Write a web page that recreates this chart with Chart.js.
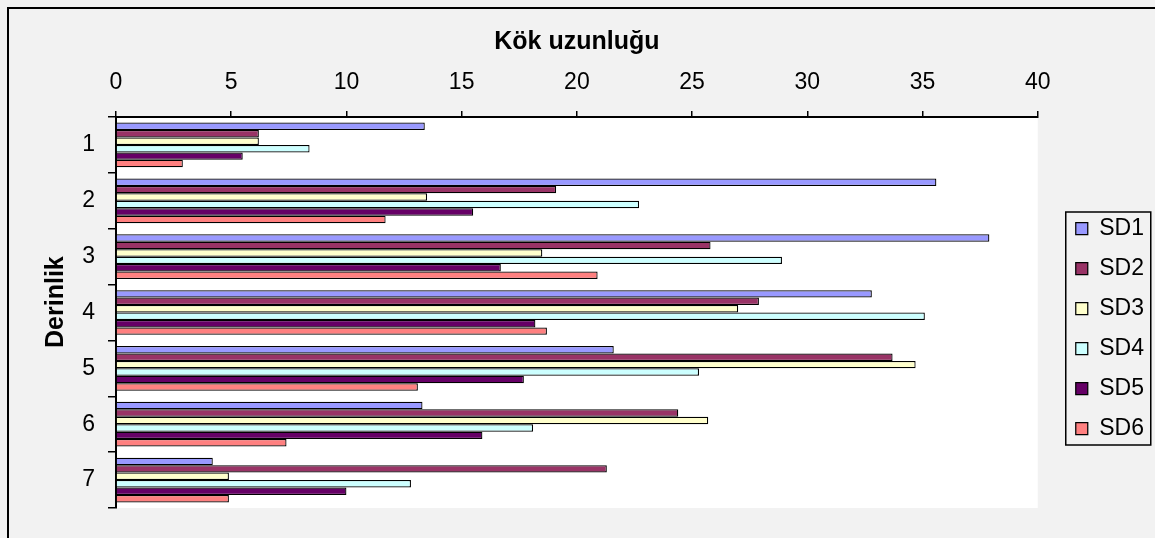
<!DOCTYPE html>
<html>
<head>
<meta charset="utf-8">
<script src="https://cdn.jsdelivr.net/npm/chart.js@4.4.1/dist/chart.umd.min.js"></script>
<style>
  html, body { margin: 0; padding: 0; background: #f2f2f2; }
  canvas { display: block; }
</style>
</head>
<body>
<canvas id="chart" width="1155" height="538"></canvas>
<script>
// Depth classes (rows) and root length per series
const depths = ['1', '2', '3', '4', '5', '6', '7'];
const seriesNames = ['SD1', 'SD2', 'SD3', 'SD4', 'SD5', 'SD6'];
const sd1 = [13.4, 35.6, 37.9, 32.8, 21.6, 13.3, 4.2];
const sd2 = [6.2, 19.1, 25.8, 27.9, 33.7, 24.4, 21.3];
const sd3 = [6.2, 13.5, 18.5, 27.0, 34.7, 25.7, 4.9];
const sd4 = [8.4, 22.7, 28.9, 35.1, 25.3, 18.1, 12.8];
const sd5 = [5.5, 15.5, 16.7, 18.2, 17.7, 15.9, 10.0];
const sd6 = [2.9, 11.7, 20.9, 18.7, 13.1, 7.4, 4.9];
const lengthTicks = [0, 5, 10, 15, 20, 25, 30, 35, 40];

const seriesValues = [sd1, sd2, sd3, sd4, sd5, sd6];
const seriesColors = ['#9999ff', '#993366', '#ffffcc', '#ccffff', '#660066', '#ff8080'];

const FONT = "'Liberation Sans', Arial, Helvetica, sans-serif";
Chart.defaults.font.family = FONT;
Chart.defaults.color = '#000';

const PAD = { top: 10, left: 10, right: 22, bottom: 30 };
const AREA_LEFT = 116;
const AREA_TOP = 117;

// Grey page, white plot area, outer frame, legend placement and legend frame
const decor = {
  id: 'decor',
  beforeDraw(chart) {
    const { ctx, chartArea: a } = chart;
    ctx.save();
    ctx.fillStyle = '#f2f2f2';
    ctx.fillRect(0, 0, chart.width, chart.height);
    ctx.fillStyle = '#ffffff';
    ctx.fillRect(a.left, a.top, a.right - a.left, a.bottom - a.top);
    ctx.strokeStyle = '#000';
    ctx.lineWidth = 2;
    ctx.strokeRect(8, 8, chart.width + 20, chart.height + 20);
    ctx.restore();
  },
  afterLayout(chart) {
    const lg = chart.legend;
    const w = lg.width, h = lg.height;
    lg.left = chart.chartArea.right + 21;
    lg.right = lg.left + w;
    lg.top = 200;
    lg.bottom = lg.top + h;
  },
  afterDraw(chart) {
    const lg = chart.legend;
    const hb = lg.legendHitBoxes;
    if (!hb || !hb.length) return;
    const first = hb[0], last = hb[hb.length - 1];
    const { ctx } = chart;
    ctx.save();
    ctx.strokeStyle = '#000';
    ctx.lineWidth = 1.5;
    const x0 = first.left - 10;
    const y0 = first.top - 5;
    const x1 = first.left + 75;
    const y1 = last.top + last.height + 5;
    ctx.strokeRect(x0, y0, x1 - x0, y1 - y0);
    ctx.restore();
  }
};

new Chart(document.getElementById('chart'), {
  type: 'bar',
  data: {
    labels: depths,
    datasets: seriesNames.map((name, i) => ({
      label: name,
      data: seriesValues[i],
      backgroundColor: seriesColors[i],
      borderColor: '#000',
      borderWidth: 1.25,
      categoryPercentage: 0.8,
      barPercentage: 1.0
    }))
  },
  options: {
    indexAxis: 'y',
    responsive: false,
    animation: false,
    events: [],
    layout: { padding: PAD },
    plugins: {
      legend: {
        position: 'right',
        align: 'start',
        labels: {
          font: { size: 23 },
          boxWidth: 12,
          boxHeight: 12,
          padding: 17,
          color: '#000'
        }
      },
      tooltip: { enabled: false }
    },
    scales: {
      x: {
        position: 'top',
        min: 0,
        max: 40,
        afterBuildTicks(scale) { scale.ticks = lengthTicks.map(v => ({ value: v })); },
        afterFit(scale) { scale.height = AREA_TOP - PAD.top; },
        ticks: { font: { size: 23 }, padding: 15, color: '#000' },
        grid: { drawOnChartArea: false, drawTicks: true, tickLength: 6, color: '#000', lineWidth: 1.5 },
        border: { display: true, color: '#000', width: 2 },
        title: {
          display: true,
          text: 'Kök uzunluğu',
          color: '#000',
          font: { size: 25, weight: 'bold' },
          padding: { top: 17, bottom: 0 }
        }
      },
      y: {
        afterFit(scale) { scale.width = AREA_LEFT - PAD.left; },
        ticks: { font: { size: 23 }, padding: 13, color: '#000' },
        grid: { offset: true, drawOnChartArea: false, drawTicks: true, tickLength: 8, color: '#000', lineWidth: 1.5 },
        border: { display: true, color: '#000', width: 2 },
        title: {
          display: true,
          // leading spaces nudge the rotated label slightly upward
          text: '   Derinlik',
          color: '#000',
          font: { size: 25, weight: 'bold' },
          padding: { top: 31, bottom: 0 }
        }
      }
    }
  },
  plugins: [decor]
});
</script>
</body>
</html>
